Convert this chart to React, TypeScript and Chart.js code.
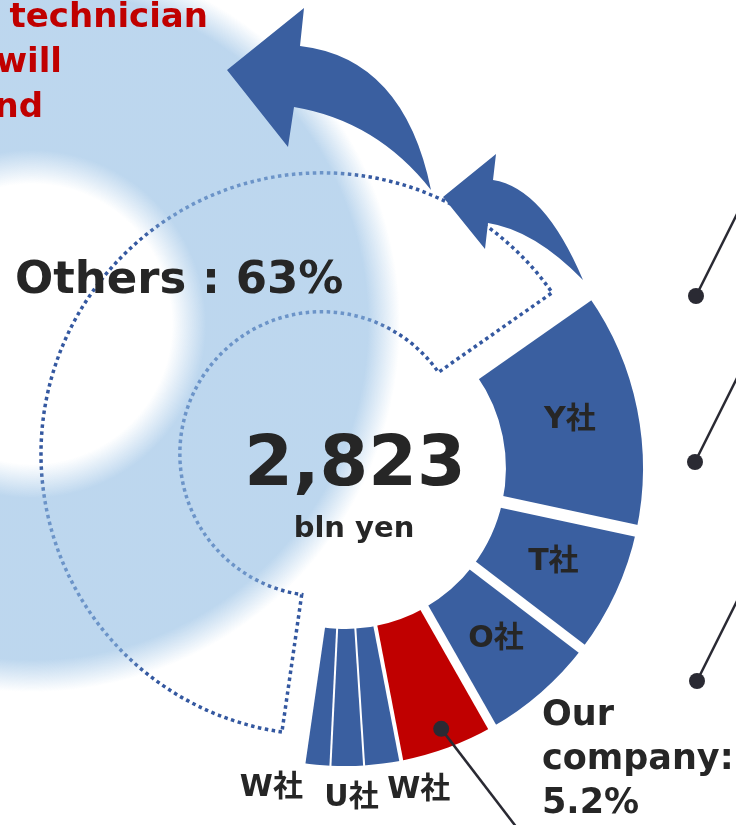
import React, { useEffect, useRef } from 'react';
import { Chart, registerables } from 'chart.js';

Chart.register(...registerables);

// ---- data ----
const companies = ['Y社', 'T社', 'O社', 'Our company', 'W社', 'U社', 'W社', 'Others'];
const shares = [13.1, 7.0, 6.4, 5.2, 2.0, 1.8, 1.5, 63.0];
const totalValue = '2,823';
const totalUnit = 'bln yen';
const noteLines = ['a technician', 'will', 'and'];

// ---- styles ----
const BLUE = '#3A5FA0';
const RED = '#C00000';
const DARK = '#262626';
const segmentColors = [BLUE, BLUE, BLUE, RED, BLUE, BLUE, BLUE, 'rgba(0,0,0,0)'];
const gapWidths = [8, 12, 10, 9, 4, 2, 2, 6];
const outsideLabelOffsets: Record<number, [number, number]> = { 4: [32, -5], 5: [4, 0], 6: [-42, -8] };
const FONT = '"DejaVu Sans", "Noto Sans CJK JP", sans-serif';
const f = (s: number) => `bold ${s}px ${FONT}`;

function drawArrow(ctx: CanvasRenderingContext2D, p: number[][]) {
  const [tip, barbA, outerStart, outerCtrl, tail, innerCtrl, innerStart, barbB] = p;
  ctx.beginPath();
  ctx.moveTo(tip[0], tip[1]);
  ctx.lineTo(barbA[0], barbA[1]);
  ctx.lineTo(outerStart[0], outerStart[1]);
  ctx.quadraticCurveTo(outerCtrl[0], outerCtrl[1], tail[0], tail[1]);
  ctx.quadraticCurveTo(innerCtrl[0], innerCtrl[1], innerStart[0], innerStart[1]);
  ctx.lineTo(barbB[0], barbB[1]);
  ctx.closePath();
  ctx.fill();
}

const deco = {
  id: 'deco',
  afterDatasetsDraw(chart: any) {
    const ctx: CanvasRenderingContext2D = chart.ctx;
    const arcs = chart.getDatasetMeta(0).data as any[];
    const first = arcs[0];
    const cx = first.x, cy = first.y;
    const R = first.outerRadius, r = first.innerRadius;

    // white gaps between segments (parallel sided)
    ctx.save();
    ctx.strokeStyle = '#ffffff';
    arcs.forEach((a, i) => {
      const ang = a.startAngle;
      ctx.lineWidth = gapWidths[i];
      ctx.beginPath();
      ctx.moveTo(cx + Math.cos(ang) * (r - 4), cy + Math.sin(ang) * (r - 4));
      ctx.lineTo(cx + Math.cos(ang) * (R + 4), cy + Math.sin(ang) * (R + 4));
      ctx.stroke();
    });
    ctx.restore();

    // dotted outline for "Others"
    const oth = arcs[7];
    const mid = (arcs[0].startAngle + oth.startAngle) / 2;
    const ocx = cx - Math.cos(mid) * 27, ocy = cy - Math.sin(mid) * 27;
    const oR = R * 0.943, oIn = R * 0.477;
    ctx.save();
    ctx.setLineDash([3.5, 3.5]);
    ctx.lineWidth = 3.5;
    ctx.strokeStyle = '#3458A0';
    ctx.beginPath();
    ctx.arc(ocx, ocy, oR, oth.startAngle, oth.endAngle);
    ctx.arc(ocx, ocy, oIn, oth.endAngle, oth.startAngle, true);
    ctx.closePath();
    ctx.stroke();
    ctx.restore();

    // soft glow ring
    ctx.save();
    const gx = 32, gy = 324, gR = 368;
    const g = ctx.createRadialGradient(gx, gy, 0, gx, gy, gR);
    const c = '145,188,227';
    g.addColorStop(0, `rgba(${c},0)`);
    g.addColorStop(140 / gR, `rgba(${c},0)`);
    g.addColorStop(157 / gR, `rgba(${c},0.3)`);
    g.addColorStop(174 / gR, `rgba(${c},0.6)`);
    g.addColorStop(336 / gR, `rgba(${c},0.6)`);
    g.addColorStop(352 / gR, `rgba(${c},0.3)`);
    g.addColorStop(1, `rgba(${c},0)`);
    ctx.fillStyle = g;
    ctx.fillRect(0, 0, chart.width, chart.height);
    ctx.restore();

    // arrows
    ctx.save();
    ctx.fillStyle = BLUE;
    drawArrow(ctx, [[227, 70], [304, 8], [300, 46], [404, 58], [431, 190], [377, 121], [294, 107], [288, 147]]);
    drawArrow(ctx, [[443, 197], [496, 154], [493, 180], [544, 188], [583, 280], [534, 230], [488, 223], [485, 249]]);
    ctx.restore();

    // text
    ctx.save();
    ctx.fillStyle = DARK;
    ctx.textAlign = 'center';
    ctx.textBaseline = 'alphabetic';
    ctx.font = f(70);
    ctx.fillText(totalValue, 355, 485);
    ctx.font = f(29);
    ctx.fillText(totalUnit, 354, 537);

    ctx.textAlign = 'left';
    ctx.font = f(45);
    ctx.fillText(`${companies[7]} : ${shares[7]}%`, 15, 293);

    // inside labels
    ctx.textAlign = 'center';
    ctx.textBaseline = 'middle';
    ctx.font = f(30);
    [0, 1, 2].forEach((i) => {
      const p = arcs[i].getCenterPoint();
      ctx.fillText(companies[i], p.x, p.y - 2);
    });
    // outside labels
    ctx.font = f(30);
    [4, 5, 6].forEach((i) => {
      const a = arcs[i];
      const m = (a.startAngle + a.endAngle) / 2;
      const off = outsideLabelOffsets[i];
      ctx.fillText(companies[i], cx + Math.cos(m) * (R + 32) + off[0], cy + Math.sin(m) * (R + 32) + off[1]);
    });

    // our company label
    ctx.textAlign = 'left';
    ctx.textBaseline = 'alphabetic';
    ctx.font = f(35);
    const ourParts = companies[3].split(' ');
    const ourLines = [ourParts[0], `${ourParts[1]}:`, `${shares[3]}%`];
    ourLines.forEach((t, k) => ctx.fillText(t, 542, 725 + k * 44));

    // red note text
    ctx.fillStyle = RED;
    ctx.textAlign = 'right';
    ctx.font = f(34);
    const noteRight = [208, 62, 43];
    noteLines.forEach((t, k) => ctx.fillText(t, noteRight[k], 27 + k * 45));
    ctx.restore();

    // leader lines and dots
    ctx.save();
    ctx.strokeStyle = '#2A2A33';
    ctx.fillStyle = '#2A2A33';
    ctx.lineWidth = 2.5;
    const our = arcs[3];
    const om = (our.startAngle + our.endAngle) / 2;
    const dx = cx + Math.cos(om) * R * 0.933, dy = cy + Math.sin(om) * R * 0.933;
    ctx.beginPath();
    ctx.moveTo(dx, dy);
    ctx.lineTo(dx + 75 * 1.5, dy + 98 * 1.5);
    ctx.stroke();
    ctx.beginPath();
    ctx.arc(dx, dy, 8, 0, Math.PI * 2);
    ctx.fill();
    const rightDots = [[696, 296], [695, 462], [697, 681]];
    rightDots.forEach(([x, y]) => {
      ctx.beginPath();
      ctx.moveTo(x, y);
      ctx.lineTo(x + 60, y - 120);
      ctx.stroke();
      ctx.beginPath();
      ctx.arc(x, y, 8, 0, Math.PI * 2);
      ctx.fill();
    });
    ctx.restore();
  },
};

export default function App() {
  const ref = useRef<HTMLCanvasElement>(null);
  useEffect(() => {
    const chart = new Chart(ref.current as HTMLCanvasElement, {
      type: 'doughnut',
      data: {
        labels: companies,
        datasets: [{ data: shares, backgroundColor: segmentColors, borderWidth: 0, hoverOffset: 0 }],
      },
      options: {
        responsive: false,
        animation: false,
        rotation: 55,
        cutout: '54%',
        radius: 298,
        layout: { padding: { left: 47, right: 93, top: 170, bottom: 59 } },
        plugins: { legend: { display: false }, tooltip: { enabled: false } },
        events: [],
      } as any,
      plugins: [deco],
    });
    return () => chart.destroy();
  }, []);
  return (
    <div style={{ position: 'fixed', left: 0, top: 0, width: 736, height: 825, background: '#ffffff' }}>
      <canvas ref={ref} width={736} height={825} style={{ width: 736, height: 825, display: 'block' }} />
    </div>
  );
}
